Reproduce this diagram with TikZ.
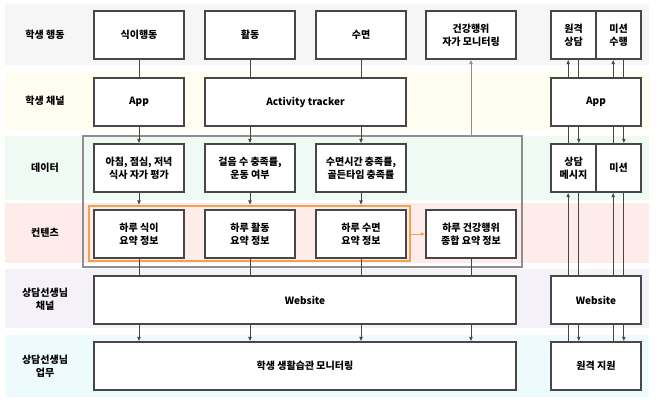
\documentclass[tikz,border=0pt]{standalone}
\usepackage{fontspec}
\setmainfont{Noto Sans CJK KR}
\usetikzlibrary{arrows.meta}

\definecolor{lineclr}{HTML}{474747}
\definecolor{grpgray}{HTML}{8E8E8E}
\definecolor{grporange}{HTML}{F2A24E}
\definecolor{rowA}{HTML}{F6F6F6}
\definecolor{rowB}{HTML}{FFFDEF}
\definecolor{rowC}{HTML}{EEFAF3}
\definecolor{rowD}{HTML}{FDECEA}
\definecolor{rowE}{HTML}{F5F1F8}
\definecolor{rowF}{HTML}{EDFBFC}

\tikzset{
  box/.style={draw=lineclr, fill=white, line width=0.8pt, minimum width=67.5pt, minimum height=36pt,
    inner sep=1pt, align=center, font=\bfseries\fontsize{7.5}{10}\selectfont},
  half/.style={box, minimum width=33.75pt},
  rowlabel/.style={align=center, font=\bfseries\fontsize{7.5}{10}\selectfont},
  link/.style={draw=lineclr, line width=0.7pt},
  flow/.style={link, -{Latex[length=3.5pt,width=3pt]}},
}

\begin{document}
\begin{tikzpicture}[x=0.75pt,y=0.75pt,yscale=-1,xscale=1]
    \useasboundingbox (0,0) rectangle (658,403);

    %Shape: Rectangle (row bands)
    \fill[rowA] (5,4) rectangle (649,65);
    \fill[rowB] (5,72) rectangle (649,130);
    \fill[rowC] (5,136) rectangle (649,200);
    \fill[rowD] (5,203) rectangle (649,263);
    \fill[rowE] (5,269) rectangle (649,328);
    \fill[rowF] (5,335) rectangle (649,397);

    % Text Node (row labels)
    \node[rowlabel] (lbact) at (45,35) {학생 행동};
    \node[rowlabel] (lbchan) at (45,101) {학생 채널};
    \node[rowlabel] (lbdata) at (45,168) {데이터};
    \node[rowlabel] (lbcont) at (45,233) {컨텐츠};
    \node[rowlabel] (lbtchan) at (45,299) {상담선생님\\채널};
    \node[rowlabel] (lbtwork) at (45,366) {상담선생님\\업무};

    %Shape: Rectangle (groups)
    \node[draw=grpgray, line width=0.9pt, minimum width=329.25pt, minimum height=98.25pt, inner sep=0pt] (datagrp) at (302.5,201.5) {};
    \node[draw=grporange, line width=1.3pt, minimum width=240.75pt, minimum height=41.25pt, inner sep=0pt] (cgrp) at (249.5,233.5) {};

    %Shape: Rectangle (student behaviour)
    \node[box] (bdiet) at (139,35) {식이행동};
    \node[box] (bact) at (250,35) {활동};
    \node[box] (bsleep) at (361,35) {수면};
    \node[box] (selfmon) at (471,35) {건강행위\\자가 모니터링};
    \node[half] (rcons) at (573.5,35) {원격\\상담};
    \node[half] (rmiss) at (618.5,35) {미션\\수행};

    %Shape: Rectangle (student channel)
    \node[box] (app) at (139,102) {App};
    \node[box, minimum width=150.75pt] (tracker) at (305.5,102) {Activity tracker};
    \node[box] (rapp) at (596,102) {App};

    %Shape: Rectangle (data)
    \node[box] (ddiet) at (139,168) {아침, 점심, 저녁\\식사 자가 평가};
    \node[box] (dact) at (250,168) {걸음 수 충족률,\\운동 여부};
    \node[box] (dsleep) at (361,168) {수면시간 충족률,\\골든타임 충족률};
    \node[half] (rmsg) at (573.5,168) {상담\\메시지};
    \node[half] (rmis) at (618.5,168) {미션};

    %Shape: Rectangle (contents)
    \node[box] (cdiet) at (139,234) {하루 식이\\요약 정보};
    \node[box] (cact) at (250,234) {하루 활동\\요약 정보};
    \node[box] (csleep) at (361,234) {하루 수면\\요약 정보};
    \node[box] (csum) at (471,234) {하루 건강행위\\종합 요약 정보};

    %Shape: Rectangle (teacher channel / work)
    \node[box, minimum width=316.5pt] (web) at (305,300) {Website};
    \node[box] (rweb) at (596,300) {Website};
    \node[box, minimum width=316.5pt] (mon) at (305,366) {학생 생활습관 모니터링};
    \node[box] (rsup) at (596,366) {원격 지원};

    %Straight Lines
    \draw[link] (bdiet) -- (app);
    \draw[link] (bact.south) -- (bact.south |- tracker.north);
    \draw[link] (bsleep.south) -- (bsleep.south |- tracker.north);
    \draw[flow] (app) -- (ddiet);
    \draw[flow] (dact.north |- tracker.south) -- (dact.north);
    \draw[flow] (dsleep.north |- tracker.south) -- (dsleep.north);
    \foreach \n in {ddiet,dact,dsleep}
      \draw[flow] (\n.south) -- (\n.south |- cgrp.north);
    \foreach \n in {cdiet,cact,csleep,csum}{
      \draw[link] (\n.south) -- (\n.south |- web.north);
      \draw[flow] (\n.south |- web.south) -- (\n.south |- mon.north);
    }
    \draw[flow, draw=grpgray] (selfmon.south |- datagrp.north) -- (selfmon.south);
    \draw[flow, draw=grporange] (cgrp.east |- csum) -- (csum.west);

    %Straight Lines (right column)
    \foreach \ubox/\dbox in {rcons/rmsg, rmiss/rmis}{
      \draw[flow] ([xshift=-4pt]\ubox.south |- rapp.north) -- ([xshift=-4pt]\ubox.south);
      \draw[link] ([xshift=4pt]\ubox.south) -- ([xshift=4pt]\ubox.south |- rapp.north);
      \draw[link] ([xshift=-4pt]\dbox.north |- rapp.south) -- ([xshift=-4pt]\dbox.north);
      \draw[flow] ([xshift=4pt]\dbox.north |- rapp.south) -- ([xshift=4pt]\dbox.north);
      \draw[flow] ([xshift=-4pt]\dbox.south |- rweb.north) -- ([xshift=-4pt]\dbox.south);
      \draw[link] ([xshift=4pt]\dbox.south) -- ([xshift=4pt]\dbox.south |- rweb.north);
      \draw[link] ([xshift=-4pt]\dbox.south |- rweb.south) -- ([xshift=-4pt]\dbox.south |- rsup.north);
      \draw[flow] ([xshift=4pt]\dbox.south |- rweb.south) -- ([xshift=4pt]\dbox.south |- rsup.north);
    }

\end{tikzpicture}
\end{document}
